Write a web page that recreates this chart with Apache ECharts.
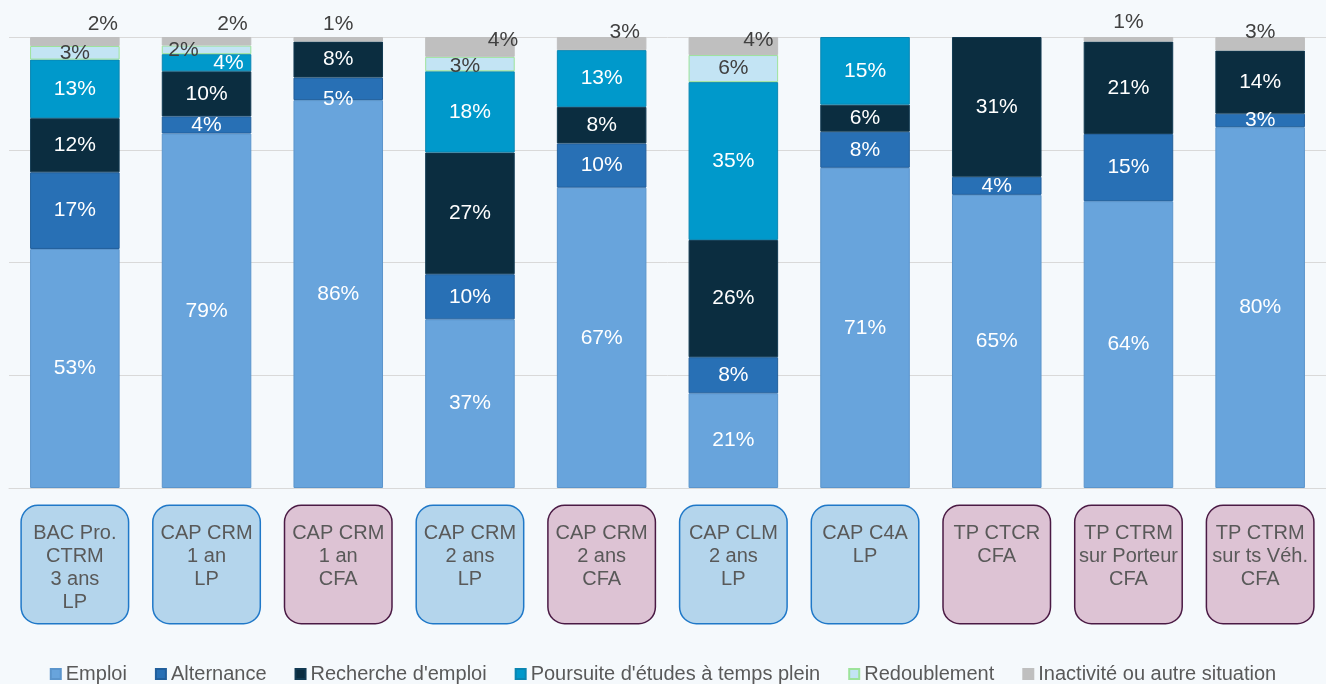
<!DOCTYPE html>
<html>
<head>
<meta charset="utf-8">
<script src="https://cdn.jsdelivr.net/npm/echarts@6/dist/echarts.min.js"></script>
<style>
  html, body { margin: 0; padding: 0; background: #f5f9fc; }
  #chart { width: 1326px; height: 684px; }
</style>
</head>
<body>
<div id="chart"></div>
<script>
// formations (category labels) and their type: LP or CFA
const categories = [
  'BAC Pro.\nCTRM\n3 ans\nLP',
  'CAP CRM\n1 an\nLP',
  'CAP CRM\n1 an\nCFA',
  'CAP CRM\n2 ans\nLP',
  'CAP CRM\n2 ans\nCFA',
  'CAP CLM\n2 ans\nLP',
  'CAP C4A\nLP',
  'TP CTCR\nCFA',
  'TP CTRM\nsur Porteur\nCFA',
  'TP CTRM\nsur ts Véh.\nCFA',
]
const formationTypes = ['LP', 'LP', 'CFA', 'LP', 'CFA', 'LP', 'LP', 'CFA', 'CFA', 'CFA']

const seriesNames = [
  'Emploi',
  'Alternance',
  "Recherche d'emploi",
  "Poursuite d'études à temps plein",
  'Redoublement',
  'Inactivité ou autre situation',
]

// percentages per formation (labels show the rounded value)
const emploi = [53, 78.6, 86, 37.4, 66.6, 21, 71, 65, 63.6, 80]
const alternance = [17, 3.8, 5, 10, 9.8, 8, 8, 4, 14.9, 3]
const rechercheEmploi = [12, 10, 8, 27, 8.1, 26, 6, 31, 20.5, 14]
const poursuiteEtudes = [13, 3.8, 0, 18, 12.6, 35, 15, 0, 0, 0]
const redoublement = [3, 1.9, 0, 3.2, 0, 6, 0, 0, 0, 0]
const inactivite = [2, 1.9, 1, 4.4, 2.9, 4, 0, 0, 1, 3]

const yTicks = [0, 25, 50, 75, 100]

const seriesValues = [emploi, alternance, rechercheEmploi, poursuiteEtudes, redoublement, inactivite]
const colors = ['#68a4dc', '#2870b5', '#0b2d40', '#0099cb', '#c3e4f4', '#bfbfbf']
const borders = ['#5b95cc', '#215f9c', '#123a52', '#0a86b2', '#9de39b', '#bfbfbf']
const labelColors = ['#ffffff', '#ffffff', '#ffffff', '#ffffff', '#404040', '#404040']

// hand nudges for labels of small segments (series index -> category index -> [dx, dy])
const nudges = {
  1: { 2: [0, 10] },
  3: { 1: [22, 0] },
  4: { 1: [-23, 0], 3: [-5, 2] },
  5: { 0: [28, 2], 1: [26, 2], 2: [0, 2], 3: [33, 18], 4: [23, 10], 5: [25, 18], 8: [0, 0], 9: [0, 10] },
}

const chart = echarts.init(document.getElementById('chart'))

const boxStyles = {
  LP: { backgroundColor: '#b4d5ec', borderColor: '#1f78c8' },
  CFA: { backgroundColor: '#ddc3d4', borderColor: '#4a1a44' },
}

const series = seriesValues.map((vals, si) => ({
  name: seriesNames[si],
  type: 'bar',
  stack: 'total',
  barWidth: '68%',
  itemStyle: { color: colors[si], borderColor: borders[si], borderWidth: 1 },
  label: {
    show: true,
    position: si === 5 ? 'top' : 'inside',
    distance: 4,
    color: labelColors[si],
    fontFamily: 'Liberation Sans',
    fontSize: 21,
    formatter: (p) => (p.value ? Math.round(p.value) + '%' : ''),
  },
  data: vals.map((v, ci) => {
    const item = { value: v }
    const off = nudges[si] && nudges[si][ci]
    if (off) item.label = { offset: off }
    if (!v) item.itemStyle = { borderWidth: 0 }
    return item
  }),
}))

chart.setOption({
  backgroundColor: '#f5f9fc',
  animation: false,
  textStyle: { fontFamily: 'Liberation Sans' },
  grid: { left: 9, top: 37, width: 1324, height: 451 },
  legend: {
    bottom: -5,
    left: 'center',
    icon: 'rect',
    itemWidth: 10,
    itemHeight: 10,
    itemGap: 28,
    textStyle: { color: '#595959', fontSize: 20, fontFamily: 'Liberation Sans' },
    data: seriesNames,
  },
  xAxis: {
    type: 'category',
    data: categories.map((c, i) => ({ value: c, textStyle: boxStyles[formationTypes[i]] })),
    axisLine: { lineStyle: { color: '#d9d9d9' } },
    axisTick: { show: false },
    axisLabel: {
      interval: 0,
      margin: 18,
      color: '#595959',
      fontSize: 20,
      lineHeight: 23,
      align: 'center',
      verticalAlign: 'top',
      width: 98,
      height: 97,
      overflow: 'none',
      padding: [16, 4, 4, 4],
      borderWidth: 1.5,
      borderRadius: 16,
    },
  },
  yAxis: {
    type: 'value',
    min: yTicks[0],
    max: yTicks[yTicks.length - 1],
    interval: yTicks[1] - yTicks[0],
    axisLabel: { show: false },
    axisLine: { show: false },
    axisTick: { show: false },
    splitLine: { lineStyle: { color: '#d9d9d9' } },
  },
  series: series,
})
</script>
</body>
</html>
